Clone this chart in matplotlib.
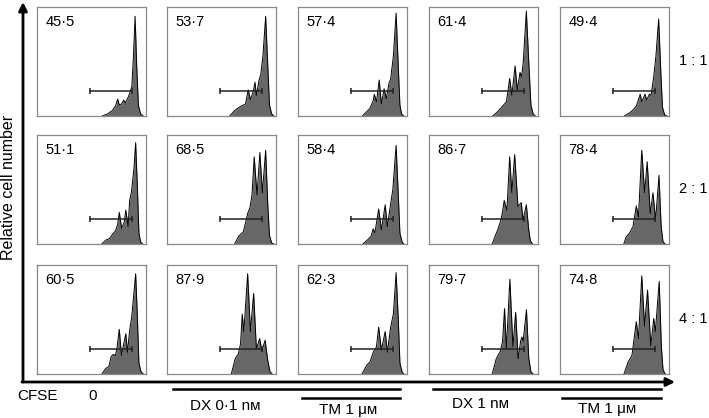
import matplotlib
matplotlib.use("Agg")
import matplotlib.pyplot as plt

plt.rcParams['font.family'] = ['Liberation Sans', 'DejaVu Sans']

# percentages in gate, rows = effector:target ratio, cols = treatment
pct = [["45·5", "53·7", "57·4", "61·4", "49·4"],
       ["51·1", "68·5", "58·4", "86·7", "78·4"],
       ["60·5", "87·9", "62·3", "79·7", "74·8"]]
ratios = ["1 : 1", "2 : 1", "4 : 1"]

# histogram outlines, CFSE (0-1 of axis) vs relative count (0-1 of axis)
row1_x = [[0.60, 0.65, 0.69, 0.72, 0.74, 0.755, 0.775, 0.795, 0.81, 0.84, 0.87, 0.885, 0.90, 0.915, 0.93, 0.95, 0.975],
          [0.575, 0.62, 0.67, 0.72, 0.745, 0.765, 0.79, 0.807, 0.82, 0.845, 0.86, 0.88, 0.905, 0.925, 0.94, 0.96, 0.98],
          [0.59, 0.63, 0.66, 0.69, 0.70, 0.72, 0.745, 0.765, 0.79, 0.81, 0.835, 0.85, 0.875, 0.90, 0.92, 0.935, 0.95, 0.97],
          [0.585, 0.63, 0.67, 0.71, 0.74, 0.76, 0.79, 0.81, 0.835, 0.85, 0.865, 0.893, 0.915, 0.935, 0.955, 0.975],
          [0.59, 0.64, 0.67, 0.70, 0.736, 0.75, 0.78, 0.795, 0.82, 0.835, 0.86, 0.88, 0.905, 0.925, 0.94, 0.96, 0.98]]
row1_y = [[0, 0.02, 0.05, 0.09, 0.155, 0.10, 0.11, 0.146, 0.12, 0.18, 0.27, 0.55, 0.915, 0.45, 0.10, 0.02, 0],
          [0, 0.05, 0.085, 0.11, 0.24, 0.15, 0.22, 0.31, 0.19, 0.33, 0.38, 0.55, 0.915, 0.45, 0.10, 0.02, 0],
          [0, 0.04, 0.07, 0.14, 0.20, 0.13, 0.33, 0.11, 0.25, 0.16, 0.30, 0.34, 0.55, 0.945, 0.45, 0.10, 0.02, 0],
          [0, 0.04, 0.085, 0.13, 0.345, 0.19, 0.46, 0.24, 0.40, 0.36, 0.50, 0.963, 0.50, 0.10, 0.02, 0],
          [0, 0.03, 0.055, 0.09, 0.20, 0.13, 0.20, 0.146, 0.20, 0.19, 0.36, 0.55, 0.89, 0.40, 0.08, 0.01, 0]]

row2_x = [[0.595, 0.63, 0.665, 0.70, 0.72, 0.74, 0.755, 0.776, 0.80, 0.815, 0.836, 0.85, 0.867, 0.89, 0.905, 0.92, 0.935, 0.95, 0.97],
          [0.62, 0.66, 0.70, 0.74, 0.76, 0.78, 0.80, 0.826, 0.852, 0.875, 0.905, 0.925, 0.94, 0.96, 0.98],
          [0.595, 0.64, 0.67, 0.69, 0.705, 0.74, 0.765, 0.80, 0.82, 0.85, 0.87, 0.90, 0.92, 0.935, 0.955, 0.97],
          [0.58, 0.60, 0.63, 0.66, 0.675, 0.69, 0.715, 0.74, 0.76, 0.786, 0.816, 0.847, 0.862, 0.893, 0.915, 0.93, 0.95],
          [0.585, 0.607, 0.638, 0.67, 0.70, 0.72, 0.75, 0.776, 0.80, 0.828, 0.853, 0.877, 0.908, 0.928, 0.945, 0.965]]
row2_y = [[0, 0.035, 0.05, 0.10, 0.12, 0.18, 0.29, 0.145, 0.20, 0.31, 0.16, 0.40, 0.48, 0.70, 0.93, 0.55, 0.10, 0.02, 0],
          [0, 0.075, 0.11, 0.28, 0.33, 0.45, 0.80, 0.45, 0.84, 0.47, 0.86, 0.35, 0.08, 0.01, 0],
          [0, 0.04, 0.07, 0.14, 0.10, 0.32, 0.13, 0.36, 0.16, 0.37, 0.50, 0.905, 0.45, 0.10, 0.02, 0],
          [0, 0.055, 0.13, 0.22, 0.30, 0.40, 0.31, 0.80, 0.47, 0.82, 0.345, 0.38, 0.22, 0.36, 0.13, 0.03, 0],
          [0, 0.065, 0.10, 0.16, 0.35, 0.25, 0.86, 0.47, 0.755, 0.28, 0.47, 0.22, 0.63, 0.16, 0.02, 0]]

row3_x = [[0.595, 0.63, 0.66, 0.68, 0.70, 0.72, 0.735, 0.755, 0.775, 0.80, 0.815, 0.83, 0.85, 0.87, 0.885, 0.905, 0.92, 0.935, 0.955, 0.975],
          [0.59, 0.625, 0.655, 0.675, 0.69, 0.705, 0.74, 0.765, 0.795, 0.82, 0.85, 0.87, 0.90, 0.925, 0.945, 0.965],
          [0.587, 0.63, 0.66, 0.69, 0.72, 0.74, 0.765, 0.80, 0.82, 0.85, 0.875, 0.90, 0.92, 0.935, 0.955, 0.97],
          [0.58, 0.617, 0.655, 0.675, 0.693, 0.71, 0.742, 0.77, 0.795, 0.818, 0.84, 0.852, 0.864, 0.894, 0.915, 0.935, 0.955],
          [0.587, 0.625, 0.66, 0.70, 0.72, 0.75, 0.776, 0.803, 0.833, 0.86, 0.875, 0.91, 0.93, 0.945, 0.965]]
row3_y = [[0, 0.05, 0.07, 0.16, 0.18, 0.17, 0.25, 0.41, 0.17, 0.30, 0.37, 0.20, 0.40, 0.53, 0.70, 0.92, 0.55, 0.10, 0.02, 0],
          [0, 0.14, 0.185, 0.28, 0.55, 0.39, 0.92, 0.39, 0.74, 0.23, 0.325, 0.21, 0.31, 0.12, 0.02, 0],
          [0, 0.08, 0.11, 0.20, 0.25, 0.43, 0.22, 0.39, 0.20, 0.43, 0.55, 0.93, 0.50, 0.10, 0.02, 0],
          [0, 0.14, 0.21, 0.30, 0.60, 0.23, 0.87, 0.25, 0.565, 0.14, 0.30, 0.34, 0.30, 0.59, 0.15, 0.02, 0],
          [0, 0.11, 0.17, 0.48, 0.325, 0.90, 0.44, 0.77, 0.26, 0.51, 0.39, 0.85, 0.25, 0.04, 0]]

hist_x = [row1_x, row2_x, row3_x]
hist_y = [row1_y, row2_y, row3_y]

# gate (marker bar) from/to on CFSE axis, and its height
gate = [0.49, 0.875, 0.23]

W, H = 709, 418
fig = plt.figure(figsize=(W / 100, H / 100), dpi=100)

# overlay in pixel coords for the arrows and bottom labels
ov = fig.add_axes([0, 0, 1, 1])
ov.set_xlim(0, W)
ov.set_ylim(H, 0)
ov.axis('off')

col_left = [37, 167, 298, 429, 560]
row_top = [7, 135, 265]
size = 109

for r in range(3):
    for c in range(5):
        ax = fig.add_axes([col_left[c] / W, 1 - (row_top[r] + size) / H, size / W, size / H])
        ax.fill_between(hist_x[r][c], hist_y[r][c], 0, color='#676767', lw=0)
        ax.plot(hist_x[r][c], hist_y[r][c], color='black', lw=0.7)
        ax.plot([gate[0], gate[1]], [gate[2], gate[2]], color='#222222', lw=1.1,
                marker='|', markersize=4, markeredgewidth=1.1)
        ax.text(0.075, 0.86, pct[r][c], fontsize=10.5, va='center', ha='left')
        ax.set_xlim(0, 1)
        ax.set_ylim(0, 1)
        ax.set_xticks([])
        ax.set_yticks([])
        for s in ax.spines.values():
            s.set_color('#888888')
            s.set_linewidth(0.9)
    ov.text(693, row_top[r] + 54, ratios[r], fontsize=10.5, ha='center', va='center')

# axes arrows
ov.annotate('', xy=(23, 2), xytext=(23, 382),
            arrowprops=dict(arrowstyle='-|>,head_length=0.5,head_width=0.25', lw=2, color='black',
                            shrinkA=0, shrinkB=0))
ov.annotate('', xy=(675, 382), xytext=(22, 382),
            arrowprops=dict(arrowstyle='-|>,head_length=0.5,head_width=0.25', lw=2, color='black',
                            shrinkA=0, shrinkB=0))
ov.text(9, 187, "Relative cell number", rotation=90, fontsize=11.5, ha='center', va='center')

ov.text(37, 396, "CFSE", fontsize=11, ha='center', va='center')
ov.text(93, 396, "0", fontsize=11, ha='center', va='center')

# treatment bars
ov.plot([173, 400], [389, 389], color='black', lw=1.8)
ov.plot([302, 400], [398, 398], color='black', lw=1.8)
ov.plot([433, 661], [389, 389], color='black', lw=1.8)
ov.plot([562, 661], [398, 398], color='black', lw=1.8)
ov.text(225, 406, "DX 0·1 nм", fontsize=11, ha='center', va='center')
ov.text(348, 410, "TM 1 μм", fontsize=11, ha='center', va='center')
ov.text(480, 404, "DX 1 nм", fontsize=11, ha='center', va='center')
ov.text(607, 409, "TM 1 μм", fontsize=11, ha='center', va='center')

fig.savefig("out.png", dpi=100)
